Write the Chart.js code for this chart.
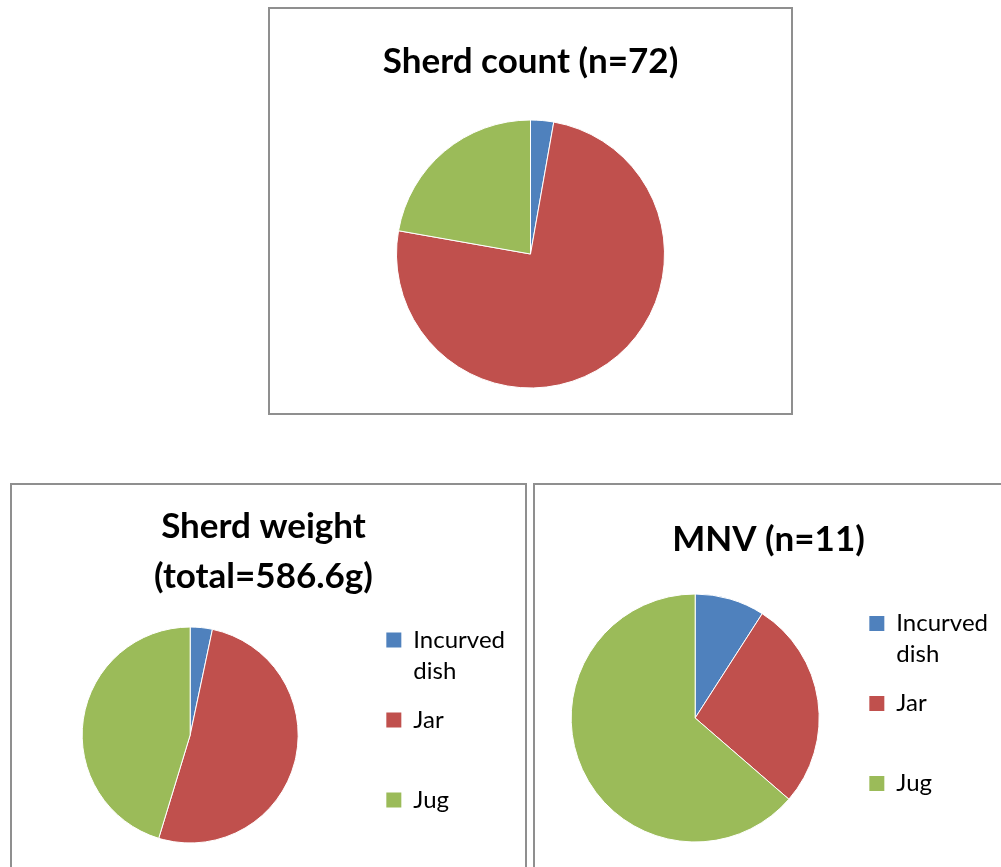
<!DOCTYPE html>
<html>
<head>
<meta charset="utf-8">
<script src="https://cdn.jsdelivr.net/npm/chart.js@4"></script>
<style>
  html, body { margin: 0; padding: 0; background: #fff; overflow: hidden; }
  body { width: 1001px; height: 867px; position: relative; }
  .box { position: absolute; border: 2px solid #8f8f8f; background: #fff; }
  .box canvas { display: block; }
</style>
</head>
<body>
<div class="box" style="left:268px; top:7px; width:521px; height:404px;">
  <canvas id="chart-1" width="521" height="404"></canvas>
</div>
<div class="box" style="left:10px; top:483px; width:513px; height:404px;">
  <canvas id="chart-2" width="513" height="404"></canvas>
</div>
<div class="box" style="left:533px; top:483px; width:472px; height:404px;">
  <canvas id="chart-3" width="472" height="404"></canvas>
</div>
<script>
const categories = [['Incurved', 'dish'], ['Jar', ''], ['Jug', '']];
const sherdCount = [2, 54, 16];
const sherdWeight = [19.4, 301.5, 265.7];
const mnv = [1, 3, 7];
const colors = ['#4F81BD', '#C0504D', '#9BBB59'];

Chart.defaults.font.family = 'Lato, "Open Sans", sans-serif';
Chart.defaults.color = '#000';
Chart.defaults.animation = false;

function titleOpts(text, lh, top, bottom) {
  return {
    display: true,
    text: text,
    color: '#000',
    font: { size: 35, weight: 'bold', lineHeight: lh },
    padding: { top: top, bottom: bottom }
  };
}

const legendOpts = {
  display: true,
  position: 'right',
  align: 'end',
  fullSize: false,
  labels: {
    boxWidth: 15,
    boxHeight: 15,
    padding: 18,
    color: '#000',
    font: { size: 24, lineHeight: '31px' },
    generateLabels: function(chart) {
      return categories.map((c, i) => ({
        text: c,
        fillStyle: colors[i],
        strokeStyle: colors[i],
        lineWidth: 0,
        index: i
      }));
    }
  }
};

const ctx1 = document.getElementById('chart-1').getContext('2d');
const myChart = new Chart(ctx1, {
    type: 'pie',
    data: {
        labels: categories,
        datasets: [{
            data: sherdCount,
            backgroundColor: colors,
            borderColor: '#fff',
            borderWidth: 1,
            radius: 134,
        }],
    },
    options: {
        responsive: false,
        layout: { padding: { bottom: 20 } },
        plugins: {
            title: titleOpts('Sherd count (n=72)', 1.2, 32, 32),
            legend: { display: false },
            tooltip: { enabled: false },
        },
    },
});

const ctx2 = document.getElementById('chart-2').getContext('2d');
const myChart2 = new Chart(ctx2, {
    type: 'pie',
    data: {
        labels: categories,
        datasets: [{
            data: sherdWeight,
            backgroundColor: colors,
            borderColor: '#fff',
            borderWidth: 1,
            radius: 108,
        }],
    },
    options: {
        responsive: false,
        layout: { padding: { left: 0, right: 10, bottom: 21 } },
        plugins: {
            title: titleOpts(['Sherd weight', '(total=586.6g)'], '50px', 17, 0),
            legend: legendOpts,
            tooltip: { enabled: false },
        },
    },
});

const ctx3 = document.getElementById('chart-3').getContext('2d');
const myChart3 = new Chart(ctx3, {
    type: 'pie',
    data: {
        labels: categories,
        datasets: [{
            data: mnv,
            backgroundColor: colors,
            borderColor: '#fff',
            borderWidth: 1,
            radius: 124,
        }],
    },
    options: {
        responsive: false,
        layout: { padding: { left: 4, right: 9, bottom: 37.5 } },
        plugins: {
            title: titleOpts('MNV (n=11)', 1.2, 34, 23.5),
            legend: legendOpts,
            tooltip: { enabled: false },
        },
    },
});
</script>
</body>
</html>
